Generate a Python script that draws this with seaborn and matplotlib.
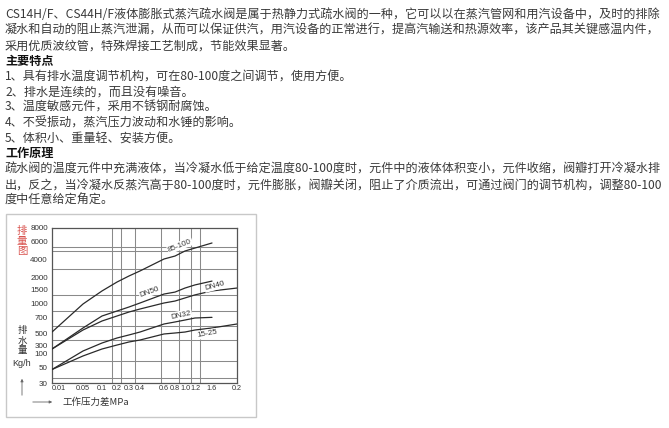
import numpy as np
import pandas as pd
import matplotlib
matplotlib.use("Agg")
import matplotlib.pyplot as plt
import seaborn as sns
from matplotlib.patches import Rectangle, FancyArrowPatch

# ---------------- data ----------------
pressure_ticks = [0.01, 0.05, 0.1, 0.2, 0.3, 0.4, 0.6, 0.8, 1.0, 1.2, 1.6, 2.0]
pressure_tick_labels = ["0.01", "0.05", "0.1", "0.2", "0.3", "0.4", "0.6", "0.8", "1.0", "1.2", "1.6", "0.2"]
flow_ticks = [30, 50, 100, 300, 500, 700, 1000, 1500, 2000, 4000, 6000, 8000]
flow_tick_labels = ["30", "50", "100", "300", "500", "700", "1000", "1500", "2000", "4000", "6000", "8000"]

x_85_100 = [0.01, 0.05, 0.1, 0.2, 0.3, 0.4, 0.6, 0.8, 1.0, 1.2, 1.6]
y_85_100 = [513, 980, 1430, 1790, 2120, 2710, 4110, 4440, 5000, 5330, 5890]
x_dn50 = [0.01, 0.05, 0.1, 0.2, 0.3, 0.4, 0.6, 0.8, 1.0, 1.2, 1.6]
y_dn50 = [225, 567, 740, 840, 920, 1000, 1320, 1390, 1540, 1670, 1830]
x_dn40 = [0.01, 0.05, 0.1, 0.2, 0.3, 0.4, 0.6, 0.8, 1.0, 1.2, 1.6, 2.0]
y_dn40 = [225, 540, 660, 740, 820, 880, 1000, 1070, 1180, 1290, 1430, 1540]
x_dn32 = [0.01, 0.05, 0.1, 0.2, 0.3, 0.4, 0.6, 0.8, 1.0, 1.2, 1.6]
y_dn32 = [48, 175, 346, 423, 470, 513, 620, 647, 673, 700, 713]
x_15_25 = [0.01, 0.05, 0.1, 0.2, 0.3, 0.4, 0.6, 0.8, 1.0, 1.2, 1.6, 2.0]
y_15_25 = [48, 93, 225, 315, 362, 392, 485, 500, 513, 540, 567, 620]

series_names = ["85-100", "DN50", "DN40", "DN32", "15-25"]
series_x = [x_85_100, x_dn50, x_dn40, x_dn32, x_15_25]
series_y = [y_85_100, y_dn50, y_dn40, y_dn32, y_15_25]
label_x = [0.9, 0.48, 1.65, 0.92, 1.48]
label_y = [5600, 1390, 1630, 760, 485]

x_grid_values = [0.05, 0.1, 0.167, 0.233, 0.3, 0.355, 0.4, 0.576, 0.6, 0.8, 0.88, 1.0, 1.11, 1.2, 1.32, 1.6]
y_grid_values = [6000, 5500, 5000, 4000, 3000, 2000, 1500, 1300, 1000, 850, 700, 600, 500, 400, 300, 100, 75, 50, 37]

text_lines = [
    "CS14H/F、CS44H/F液体膨胀式蒸汽疏水阀是属于热静力式疏水阀的一种，它可以以在蒸汽管网和用汽设备中，及时的排除",
    "凝水和自动的阻止蒸汽泄漏，从而可以保证供汽，用汽设备的正常进行，提高汽输送和热源效率，该产品其关键感温内件，",
    "采用优质波纹管，特殊焊接工艺制成，节能效果显著。",
    "主要特点",
    "1、具有排水温度调节机构，可在80-100度之间调节，使用方便。",
    "2、排水是连续的，而且没有噪音。",
    "3、温度敏感元件，采用不锈钢耐腐蚀。",
    "4、不受振动，蒸汽压力波动和水锤的影响。",
    "5、体积小、重量轻、安装方便。",
    "工作原理",
    "疏水阀的温度元件中充满液体，当冷凝水低于给定温度80-100度时，元件中的液体体积变小，元件收缩，阀瓣打开冷凝水排",
    "出，反之，当冷凝水反蒸汽高于80-100度时，元件膨胀，阀瓣关闭，阻止了介质流出，可通过阀门的调节机构，调整80-100",
    "度中任意给定角定。",
]
heading_lines = {3, 9}

# ---------------- layout ----------------
W, H = 669, 428
sns.set_theme(style="white")
plt.rcParams["font.family"] = ["Noto Sans CJK SC", "DejaVu Sans"]

fig = plt.figure(figsize=(W / 100, H / 100), dpi=100)
fig.patch.set_facecolor("white")

def fx(px):
    return px / W

def fy(py):
    return 1 - py / H

# body text
line_y = [14, 30, 46, 61, 77, 92, 107, 123, 138, 154, 169, 185, 200]
for i, (t, yy) in enumerate(zip(text_lines, line_y)):
    bold = i in heading_lines
    fig.text(fx(5), fy(yy), t, fontsize=8.7, va="center", ha="left",
             color="#111111" if bold else "#3a3a3a",
             fontweight="bold" if bold else "normal")

# chart frame
fig.add_artist(Rectangle((fx(6), fy(417)), fx(256) - fx(6), fy(214) - fy(417),
                         transform=fig.transFigure, fill=False,
                         edgecolor="#c8c8c8", linewidth=1.0))

# scale mapping (axis positions of the printed ticks, in px from axis origin)
x_pos = [0, 31, 50, 65, 77, 88, 112, 123, 133, 143, 160, 185]
y_pos = [0, 15, 29, 37, 50, 65, 80, 94, 106, 123, 141, 155]

def xf(v):
    return np.interp(v, pressure_ticks, x_pos)

def xi(p):
    return np.interp(p, x_pos, pressure_ticks)

def yf(v):
    return np.interp(v, flow_ticks, y_pos)

def yi(p):
    return np.interp(p, y_pos, flow_ticks)

ax = fig.add_axes([fx(52), fy(383), fx(237) - fx(52), fy(228) - fy(383)])
ax.set_xscale("function", functions=(xf, xi))
ax.set_yscale("function", functions=(yf, yi))

frames = []
for name, xs, ys in zip(series_names, series_x, series_y):
    frames.append(pd.DataFrame({"pressure": xs, "flow": ys, "series": name}))
df = pd.concat(frames, ignore_index=True)

sns.lineplot(data=df, x="pressure", y="flow", hue="series", units="series",
             estimator=None, palette=["#2a2a2a"] * len(series_names),
             linewidth=0.9, legend=False, sort=True, ax=ax, zorder=3)

ax.set_xlim(0.01, 2.0)
ax.set_ylim(30, 8000)
ax.set_xticks(pressure_ticks)
ax.set_xticklabels(pressure_tick_labels)
ax.set_yticks(flow_ticks)
ax.set_yticklabels(flow_tick_labels)
ax.set_xticks(x_grid_values, minor=True)
ax.set_yticks(y_grid_values, minor=True)
ax.grid(False)
ax.grid(True, which="minor", color="#8a8a8a", linewidth=0.75)
ax.tick_params(which="both", length=0)
ax.tick_params(axis="x", pad=1.5, labelsize=5.2, labelcolor="#333333")
ax.tick_params(axis="y", pad=3, labelsize=5.8, labelcolor="#333333")
for lab in ax.get_xticklabels():
    lab.set_fontfamily(["Liberation Sans", "DejaVu Sans"])
for lab in ax.get_yticklabels():
    lab.set_fontfamily(["Liberation Sans", "DejaVu Sans"])
ax.get_xticklabels()[0].set_ha("left")
ax.set_xlabel("")
ax.set_ylabel("")
for s in ax.spines.values():
    s.set_color("#555555")
    s.set_linewidth(0.9)

rots = [22, 20, 15, 12, 10]
for name, lx, ly, r in zip(series_names, label_x, label_y, rots):
    ax.text(lx, ly, name, fontsize=5.8, rotation=r, ha="center", va="center",
            color="#333333", family=["Liberation Sans", "DejaVu Sans"], zorder=4,
            bbox=dict(facecolor="white", edgecolor="none", pad=0.6))

# side annotations
for ch, yy in zip("排量图", [231, 241, 251]):
    fig.text(fx(22), fy(yy), ch, fontsize=7.5, color="#d9534f", ha="center", va="center")
for ch, yy in zip("排水量", [331, 341, 351]):
    fig.text(fx(22), fy(yy), ch, fontsize=6.8, color="#333333", ha="center", va="center")
fig.text(fx(22), fy(363), "Kg/h", fontsize=6.5, color="#333333", ha="center", va="center",
         family=["Liberation Sans", "DejaVu Sans"])
fig.add_artist(FancyArrowPatch((fx(22), fy(398)), (fx(22), fy(376)), transform=fig.transFigure,
                               arrowstyle="-|>", mutation_scale=4, color="#666666", linewidth=0.6))
fig.add_artist(FancyArrowPatch((fx(30), fy(402)), (fx(55), fy(402)), transform=fig.transFigure,
                               arrowstyle="-|>", mutation_scale=4, color="#666666", linewidth=0.6))
fig.text(fx(63), fy(402), "工作压力差MPa", fontsize=6.8, color="#333333", ha="left", va="center")

fig.savefig("out.png", dpi=100, facecolor="white")
